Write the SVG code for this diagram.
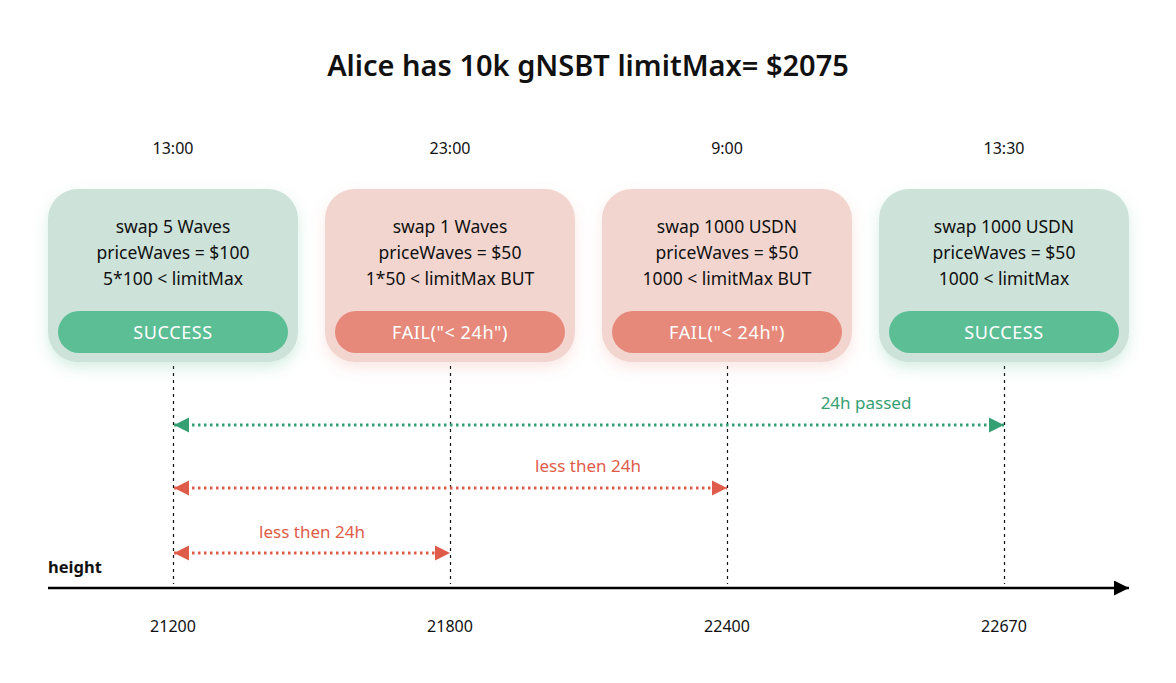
<svg xmlns="http://www.w3.org/2000/svg" width="1176" height="683" viewBox="0 0 1176 683">
<defs>
<style>
text{font-family:"Noto Sans","Open Sans",sans-serif;}
.t{font-size:17.5px;fill:#111;text-anchor:middle;}
.time{font-size:16px;fill:#111;text-anchor:middle;}
.btn{font-size:18px;letter-spacing:0.6px;fill:#fff;text-anchor:middle;}
.gbox{fill:#cde2d9;}
.rbox{fill:#f2d5cf;}
.gbtn{fill:#5bbe95;}
.rbtn{fill:#e6897b;}
.vl{stroke:#111;stroke-width:1.2;stroke-dasharray:3 4;fill:none;}
.ga{stroke:#35a073;stroke-width:3;stroke-dasharray:2.5 3.5;fill:none;}
.ra{stroke:#e05c4a;stroke-width:3;stroke-dasharray:2.5 3.5;fill:none;}
.gl{font-size:17px;fill:#35a073;text-anchor:middle;}
.rl{font-size:17px;fill:#e05c4a;text-anchor:middle;}
</style>
<filter id="glowG" x="-20%" y="-20%" width="140%" height="150%">
<feDropShadow dx="0" dy="6" stdDeviation="7" flood-color="#5bbe95" flood-opacity="0.25"/>
</filter>
<filter id="glowR" x="-20%" y="-20%" width="140%" height="150%">
<feDropShadow dx="0" dy="6" stdDeviation="7" flood-color="#e6897b" flood-opacity="0.2"/>
</filter>
<marker id="gE" viewBox="0 0 10 10" refX="10" refY="5" markerWidth="5" markerHeight="5.3" markerUnits="strokeWidth" orient="auto"><path d="M0,0 L10,5 L0,10 z" fill="#35a073"/></marker>
<marker id="gS" viewBox="0 0 10 10" refX="10" refY="5" markerWidth="5" markerHeight="5.3" markerUnits="strokeWidth" orient="auto-start-reverse"><path d="M0,0 L10,5 L0,10 z" fill="#35a073"/></marker>
<marker id="rE" viewBox="0 0 10 10" refX="10" refY="5" markerWidth="5" markerHeight="5.3" markerUnits="strokeWidth" orient="auto"><path d="M0,0 L10,5 L0,10 z" fill="#e05c4a"/></marker>
<marker id="rS" viewBox="0 0 10 10" refX="10" refY="5" markerWidth="5" markerHeight="5.3" markerUnits="strokeWidth" orient="auto-start-reverse"><path d="M0,0 L10,5 L0,10 z" fill="#e05c4a"/></marker>
<marker id="kE" viewBox="0 0 10 10" refX="10" refY="5" markerWidth="6" markerHeight="6" markerUnits="strokeWidth" orient="auto"><path d="M0,0 L10,5 L0,10 z" fill="#000"/></marker>
</defs>
<rect width="1176" height="683" fill="#fff"/>
<text x="588" y="76" style="font-size:29px;font-weight:600;fill:#111;text-anchor:middle">Alice has 10k gNSBT limitMax= $2075</text>

<g id="connectors">
<line class="vl" x1="173.5" y1="366" x2="173.5" y2="584"/>
<line class="vl" x1="450.5" y1="366" x2="450.5" y2="584"/>
<line class="vl" x1="727.5" y1="366" x2="727.5" y2="584"/>
<line class="vl" x1="1004.5" y1="366" x2="1004.5" y2="584"/>
<line class="ga" x1="174" y1="425" x2="1004" y2="425" marker-start="url(#gS)" marker-end="url(#gE)"/>
<line class="ra" x1="174" y1="488" x2="727" y2="488" marker-start="url(#rS)" marker-end="url(#rE)"/>
<line class="ra" x1="174" y1="553" x2="450" y2="553" marker-start="url(#rS)" marker-end="url(#rE)"/>
<line x1="48" y1="588" x2="1129" y2="588" stroke="#000" stroke-width="2.5" marker-end="url(#kE)"/>
<text class="gl" x="866" y="409">24h passed</text>
<text class="rl" x="588" y="472">less then 24h</text>
<text class="rl" x="312" y="538">less then 24h</text>
<text x="48" y="573" style="font-size:16.5px;font-weight:700;fill:#111">height</text>
<text class="time" x="173" y="632">21200</text>
<text class="time" x="450" y="632">21800</text>
<text class="time" x="727" y="632">22400</text>
<text class="time" x="1004" y="632">22670</text>
</g>

<g id="node1">
<text class="time" x="173" y="154">13:00</text>
<rect class="gbox" x="48" y="189" width="250" height="173" rx="30" filter="url(#glowG)"/>
<text class="t" x="173" y="233">swap 5 Waves</text>
<text class="t" x="173" y="259">priceWaves = $100</text>
<text class="t" x="173" y="285">5*100 &lt; limitMax</text>
<rect class="gbtn" x="58" y="311" width="230" height="42" rx="21"/>
<text class="btn" x="173" y="338.5">SUCCESS</text>
</g>

<g id="node2">
<text class="time" x="450" y="154">23:00</text>
<rect class="rbox" x="325" y="189" width="250" height="173" rx="30" filter="url(#glowR)"/>
<text class="t" x="450" y="233">swap 1 Waves</text>
<text class="t" x="450" y="259">priceWaves = $50</text>
<text class="t" x="450" y="285">1*50 &lt; limitMax BUT</text>
<rect class="rbtn" x="335" y="311" width="230" height="42" rx="21"/>
<text class="btn" x="450" y="338.5">FAIL("&lt; 24h")</text>
</g>

<g id="node3">
<text class="time" x="727" y="154">9:00</text>
<rect class="rbox" x="602" y="189" width="250" height="173" rx="30" filter="url(#glowR)"/>
<text class="t" x="727" y="233">swap 1000 USDN</text>
<text class="t" x="727" y="259">priceWaves = $50</text>
<text class="t" x="727" y="285">1000 &lt; limitMax BUT</text>
<rect class="rbtn" x="612" y="311" width="230" height="42" rx="21"/>
<text class="btn" x="727" y="338.5">FAIL("&lt; 24h")</text>
</g>

<g id="node4">
<text class="time" x="1004" y="154">13:30</text>
<rect class="gbox" x="879" y="189" width="250" height="173" rx="30" filter="url(#glowG)"/>
<text class="t" x="1004" y="233">swap 1000 USDN</text>
<text class="t" x="1004" y="259">priceWaves = $50</text>
<text class="t" x="1004" y="285">1000 &lt; limitMax</text>
<rect class="gbtn" x="889" y="311" width="230" height="42" rx="21"/>
<text class="btn" x="1004" y="338.5">SUCCESS</text>
</g>
</svg>
